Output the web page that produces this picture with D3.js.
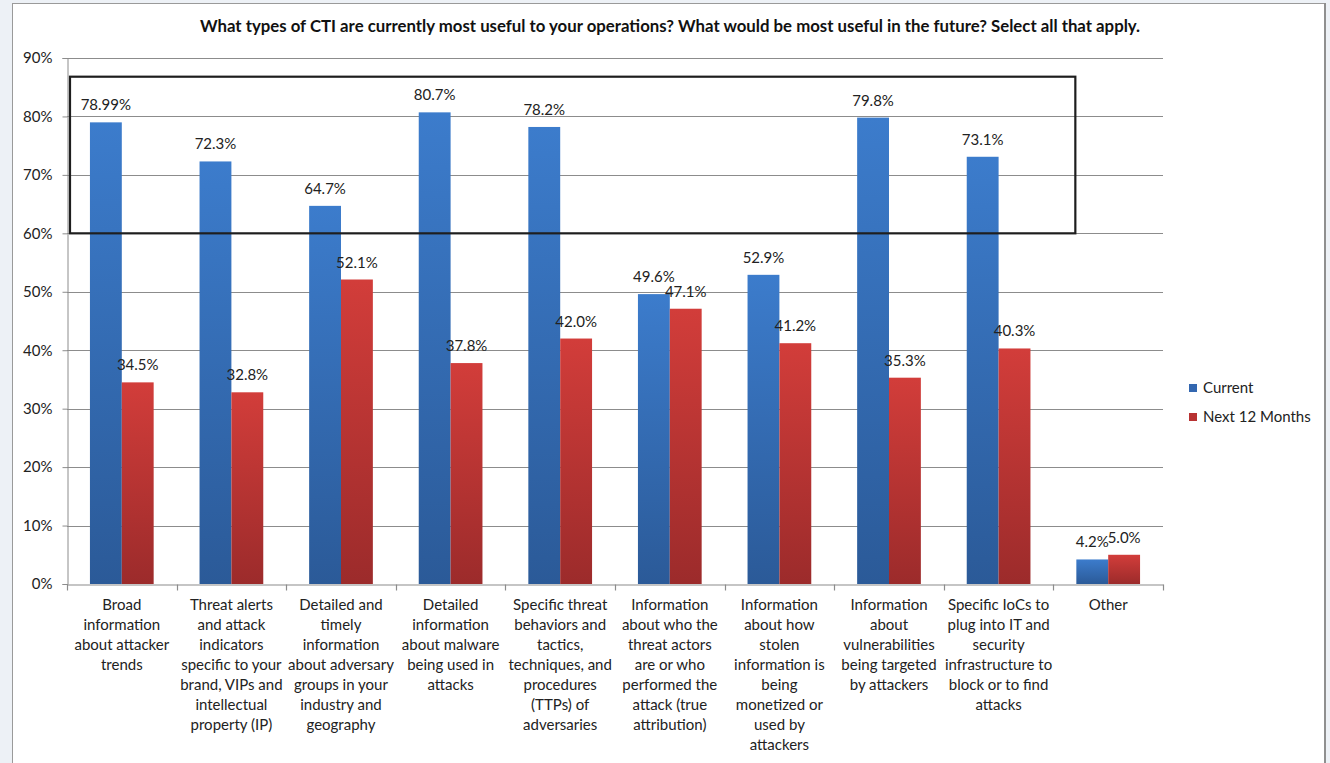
<!DOCTYPE html>
<html>
<head>
<meta charset="utf-8">
<script src="https://cdn.jsdelivr.net/npm/d3@7"></script>
<style>
  html, body { margin: 0; padding: 0; background: #edf1f6; }
  svg { display: block; font-family: Lato, "Open Sans", sans-serif; }
</style>
</head>
<body>
<svg id="chart" width="1330" height="763"></svg>
<script>
// Survey categories, each split into the lines shown under the axis
const categories = [
  ["Broad", "information", "about attacker", "trends"],
  ["Threat alerts", "and attack", "indicators", "specific to your", "brand, VIPs and", "intellectual", "property (IP)"],
  ["Detailed and", "timely", "information", "about adversary", "groups in your", "industry and", "geography"],
  ["Detailed", "information", "about malware", "being used in", "attacks"],
  ["Specific threat", "behaviors and", "tactics,", "techniques, and", "procedures", "(TTPs) of", "adversaries"],
  ["Information", "about who the", "threat actors", "are or who", "performed the", "attack (true", "attribution)"],
  ["Information", "about how", "stolen", "information is", "being", "monetized or", "used by", "attackers"],
  ["Information", "about", "vulnerabilities", "being targeted", "by attackers"],
  ["Specific IoCs to", "plug into IT and", "security", "infrastructure to", "block or to find", "attacks"],
  ["Other"]
];
const currentValues = [78.99, 72.3, 64.7, 80.7, 78.2, 49.6, 52.9, 79.8, 73.1, 4.2];
const nextValues    = [34.5, 32.8, 52.1, 37.8, 42.0, 47.1, 41.2, 35.3, 40.3, 5.0];
const currentLabels = ["78.99%", "72.3%", "64.7%", "80.7%", "78.2%", "49.6%", "52.9%", "79.8%", "73.1%", "4.2%"];
const nextLabels    = ["34.5%", "32.8%", "52.1%", "37.8%", "42.0%", "47.1%", "41.2%", "35.3%", "40.3%", "5.0%"];
const seriesNames = ["Current", "Next 12 Months"];
const yTicks = [0, 10, 20, 30, 40, 50, 60, 70, 80, 90];
// Highlight box spanning the first nine categories, from 60% up
const highlightRange = [60, 86.8];

const title = "What types of CTI are currently most useful to your operations? What would be most useful in the future? Select all that apply.";

const svg = d3.select("#chart");

// White chart panel
svg.append("rect").attr("x", 12.5).attr("y", 3.5).attr("width", 1312).attr("height", 770)
  .attr("fill", "#ffffff").attr("stroke", "#9a9a9a").attr("stroke-width", 1);
svg.append("line").attr("x1", 1325).attr("x2", 1325).attr("y1", 3).attr("y2", 763)
  .attr("stroke", "#8f8f8f").attr("stroke-width", 2);

const plot = { left: 67, right: 1163, top: 58, bottom: 584 };

const x = d3.scaleBand().domain(d3.range(categories.length))
  .range([plot.left, plot.right]).paddingInner(0).paddingOuter(0);
const sub = d3.scaleBand().domain([0, 1]).range([0, x.bandwidth()]).paddingOuter(0.72).paddingInner(0);
const y = d3.scaleLinear().domain([0, 90]).range([plot.bottom, plot.top]);

// Gradients
const defs = svg.append("defs");
const grads = [
  { id: "gBlue", top: "#3c7ccc", bottom: "#2b5a98" },
  { id: "gRed", top: "#d23d3a", bottom: "#9c2b2b" }
];
grads.forEach(g => {
  const lg = defs.append("linearGradient").attr("id", g.id)
    .attr("x1", 0).attr("y1", 0).attr("x2", 0).attr("y2", 1);
  lg.append("stop").attr("offset", "0%").attr("stop-color", g.top);
  lg.append("stop").attr("offset", "100%").attr("stop-color", g.bottom);
});

// Title
svg.append("text").attr("x", 670).attr("y", 32).attr("text-anchor", "middle")
  .attr("font-weight", "bold").attr("font-size", 16.8).attr("fill", "#111")
  .text(title);

// Gridlines
svg.append("g").selectAll("line").data(yTicks.slice(1)).join("line")
  .attr("x1", plot.left).attr("x2", plot.right)
  .attr("y1", d => Math.round(y(d)) + 0.5).attr("y2", d => Math.round(y(d)) + 0.5)
  .attr("stroke", "#8c8c8c").attr("stroke-width", 1.2);

// Y axis
const yAxis = d3.axisLeft(y).tickValues(yTicks).tickFormat(d => d + "%").tickSize(5).tickPadding(10);
const gy = svg.append("g").attr("transform", `translate(${plot.left + 0.5},0)`).call(yAxis);
gy.select(".domain").attr("stroke", "#8c8c8c");
gy.selectAll(".tick line").attr("stroke", "#8c8c8c");
gy.selectAll(".tick text").attr("font-size", 15).attr("fill", "#222")
  .attr("font-family", "Lato, sans-serif");

// X axis baseline and category ticks
const xAxis = d3.axisBottom(x).tickSize(0).tickFormat("");
const gx = svg.append("g").attr("transform", `translate(0,${plot.bottom + 0.5})`).call(xAxis);
gx.select(".domain").attr("stroke", "#8c8c8c").attr("stroke-width", 1.2);
gx.selectAll(".tick").remove();
gx.selectAll(".cat-tick").data(d3.range(categories.length + 1)).join("line")
  .attr("class", "cat-tick")
  .attr("x1", i => Math.round(plot.left + i * x.step()) + 0.5)
  .attr("x2", i => Math.round(plot.left + i * x.step()) + 0.5)
  .attr("y1", 0).attr("y2", 6).attr("stroke", "#8c8c8c").attr("stroke-width", 1.2);

// Bars
const series = [
  { values: currentValues, labels: currentLabels, fill: "url(#gBlue)" },
  { values: nextValues, labels: nextLabels, fill: "url(#gRed)" }
];
series.forEach((s, si) => {
  const g = svg.append("g");
  g.selectAll("rect").data(s.values).join("rect")
    .attr("x", (d, i) => x(i) + sub(si))
    .attr("width", sub.bandwidth())
    .attr("y", d => y(d))
    .attr("height", d => y(0) - y(d))
    .attr("fill", s.fill);
});
// Value labels
series.forEach((s, si) => {
  svg.append("g").selectAll("text").data(s.values).join("text")
    .attr("x", (d, i) => x(i) + sub(si) + sub.bandwidth() / 2)
    .attr("y", d => y(d) - 12)
    .attr("text-anchor", "middle").attr("font-size", 15).attr("fill", "#222")
    .text((d, i) => s.labels[i]);
});

// Category labels
const cat = svg.append("g").selectAll("text").data(categories).join("text")
  .attr("text-anchor", "middle").attr("font-size", 15).attr("fill", "#222")
  .attr("x", (d, i) => x(i) + x.bandwidth() / 2)
  .attr("y", 610);
cat.selectAll("tspan").data(d => d).join("tspan")
  .attr("x", function () { return d3.select(this.parentNode).attr("x"); })
  .attr("dy", (d, i) => i === 0 ? 0 : 20)
  .text(d => d);

// Highlight box
svg.append("rect")
  .attr("x", x(0) + 3)
  .attr("y", y(highlightRange[1]))
  .attr("width", x(9) + sub(0) - 1 - (x(0) + 3))
  .attr("height", y(highlightRange[0]) - y(highlightRange[1]))
  .attr("fill", "none").attr("stroke", "#1e1e1e").attr("stroke-width", 2.2);

// Legend
const legend = svg.append("g").selectAll("g").data(seriesNames).join("g")
  .attr("transform", (d, i) => `translate(1189,${384 + i * 29})`);
legend.append("rect").attr("width", 8).attr("height", 8)
  .attr("fill", (d, i) => i === 0 ? "#3367b0" : "#b83232");
legend.append("text").attr("x", 14).attr("y", 4).attr("dy", "0.35em")
  .attr("font-size", 15).attr("fill", "#222").text(d => d);
</script>
</body>
</html>
